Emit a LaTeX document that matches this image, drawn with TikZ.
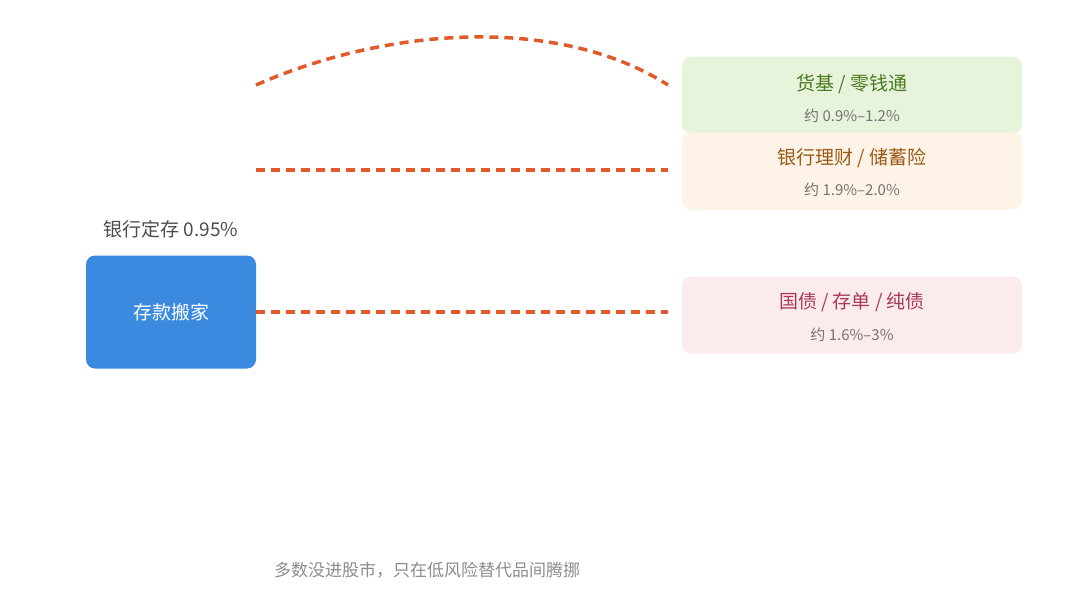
\documentclass[tikz,border=0pt]{standalone}
\usepackage{fontspec}
\setmainfont{Noto Sans CJK SC}
\usetikzlibrary{positioning}
\definecolor{flowblue}{HTML}{3A8AE0}
\definecolor{flowdash}{HTML}{E05A2B}
\definecolor{greenbg}{HTML}{E8F3DC}
\definecolor{greentx}{HTML}{4A7A20}
\definecolor{orangebg}{HTML}{FDF3E6}
\definecolor{orangetx}{HTML}{9A5A1A}
\definecolor{pinkbg}{HTML}{FCEBEC}
\definecolor{pinktx}{HTML}{A8385A}
\tikzset{
    card/.style={rounded corners=9pt, minimum width=340pt, minimum height=77pt, inner sep=0pt},
    flow/.style={flowdash, line width=3.5pt, dash pattern=on 9pt off 6pt},
    sub/.style={text=black!55, font=\fontsize{15}{18}\selectfont},
    head/.style={font=\fontsize{19}{22}\selectfont},
}
\begin{document}
\begin{tikzpicture}[x=1pt,y=-1pt]
\useasboundingbox (0,0) rectangle (1080,597);

\node[fill=flowblue, rounded corners=9pt, minimum width=170pt, minimum height=113pt,
      text=white, head] (move) at (171,312) {存款搬家};
\node[head, text=black!70] (rate) at (171,229) {银行定存 0.95\%};

\node[card, fill=greenbg] (fund) at (852,95) {};
\node[head, text=greentx] at (852,84) {货基 / 零钱通};
\node[sub] at (852,116) {约 0.9\%–1.2\%};

\node[card, fill=orangebg] (wealth) at (852,171) {};
\node[head, text=orangetx] at (852,158) {银行理财 / 储蓄险};
\node[sub] at (852,190) {约 1.9\%–2.0\%};

\node[card, fill=pinkbg] (bond) at (852,315) {};
\node[head, text=pinktx] at (852,302) {国债 / 存单 / 纯债};
\node[sub] at (852,335) {约 1.6\%–3\%};

% dashed flows
\coordinate (s1) at (256,85);
\coordinate (e1) at (668,85);
\coordinate (s2) at (256,170);
\coordinate (e2) at (668,170);
\draw[flow] (s1) .. controls (390,26) and (560,16) .. (e1);
\draw[flow] (s2) -- (e2);
\draw[flow] (move.east) -- (move.east -| e2);

\node[sub, text=black!45, font=\fontsize{17}{20}\selectfont] (note) at (427,570) {多数没进股市，只在低风险替代品间腾挪};
\end{tikzpicture}
\end{document}
